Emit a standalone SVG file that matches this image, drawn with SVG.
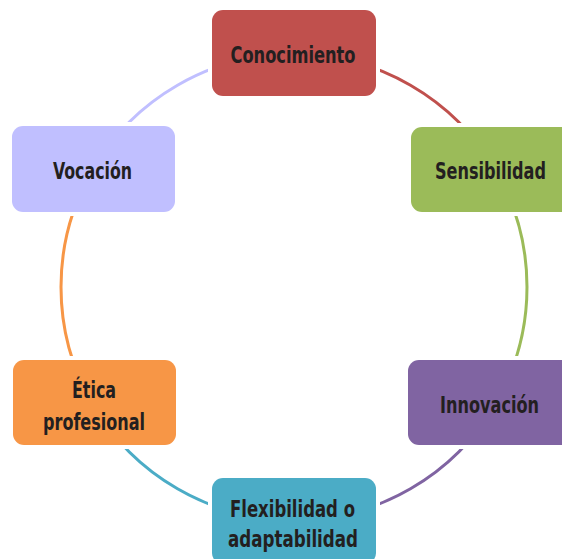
<svg xmlns="http://www.w3.org/2000/svg" width="562" height="559" viewBox="0 0 562 559">
<style>
.arc{fill:none;stroke-width:3}
.box{stroke:#fff;stroke-width:8;paint-order:stroke}
.lbl{font-family:"DejaVu Sans Condensed","DejaVu Sans",sans-serif;font-weight:bold;font-size:23px;fill:#231F20;text-anchor:middle}
</style>
<rect width="562" height="559" fill="#fff"/>
<g id="connectors">
<path class="arc" stroke="#C0504D" d="M294,54 A233,233 0 0 1 495.78,170.5"/>
<path class="arc" stroke="#9BBB59" d="M495.78,170.5 A233,233 0 0 1 495.78,403.5"/>
<path class="arc" stroke="#8064A2" d="M495.78,403.5 A233,233 0 0 1 294,520"/>
<path class="arc" stroke="#4BACC6" d="M294,520 A233,233 0 0 1 92.22,403.5"/>
<path class="arc" stroke="#F79646" d="M92.22,403.5 A233,233 0 0 1 92.22,170.5"/>
<path class="arc" stroke="#C0BFFF" d="M92.22,170.5 A233,233 0 0 1 294,54"/>
</g>
<g id="conocimiento">
<rect class="box" x="212" y="10" width="164" height="86" rx="11" fill="#C0504D"/>
<text class="lbl" x="293" y="63" textLength="125" lengthAdjust="spacingAndGlyphs">Conocimiento</text>
</g>
<g id="sensibilidad">
<rect class="box" x="411" y="127" width="164" height="85" rx="11" fill="#9BBB59"/>
<text class="lbl" x="490.5" y="179" textLength="111" lengthAdjust="spacingAndGlyphs">Sensibilidad</text>
</g>
<g id="innovacion">
<rect class="box" x="408" y="360" width="164" height="85" rx="11" fill="#8064A2"/>
<text class="lbl" x="489.5" y="413" textLength="99" lengthAdjust="spacingAndGlyphs">Innovación</text>
</g>
<g id="flexibilidad">
<rect class="box" x="212" y="478" width="164" height="86" rx="11" fill="#4BACC6"/>
<text class="lbl" x="292.5" y="517" textLength="125" lengthAdjust="spacingAndGlyphs">Flexibilidad o</text>
<text class="lbl" x="293" y="547" textLength="130" lengthAdjust="spacingAndGlyphs">adaptabilidad</text>
</g>
<g id="etica">
<rect class="box" x="13" y="360" width="163" height="85" rx="11" fill="#F79646"/>
<text class="lbl" x="94" y="398" textLength="44" lengthAdjust="spacingAndGlyphs">Ética</text>
<text class="lbl" x="94" y="430" textLength="102" lengthAdjust="spacingAndGlyphs">profesional</text>
</g>
<g id="vocacion">
<rect class="box" x="12" y="126" width="163" height="86" rx="11" fill="#C0BFFF"/>
<text class="lbl" x="92.5" y="179" textLength="79" lengthAdjust="spacingAndGlyphs">Vocación</text>
</g>
</svg>
